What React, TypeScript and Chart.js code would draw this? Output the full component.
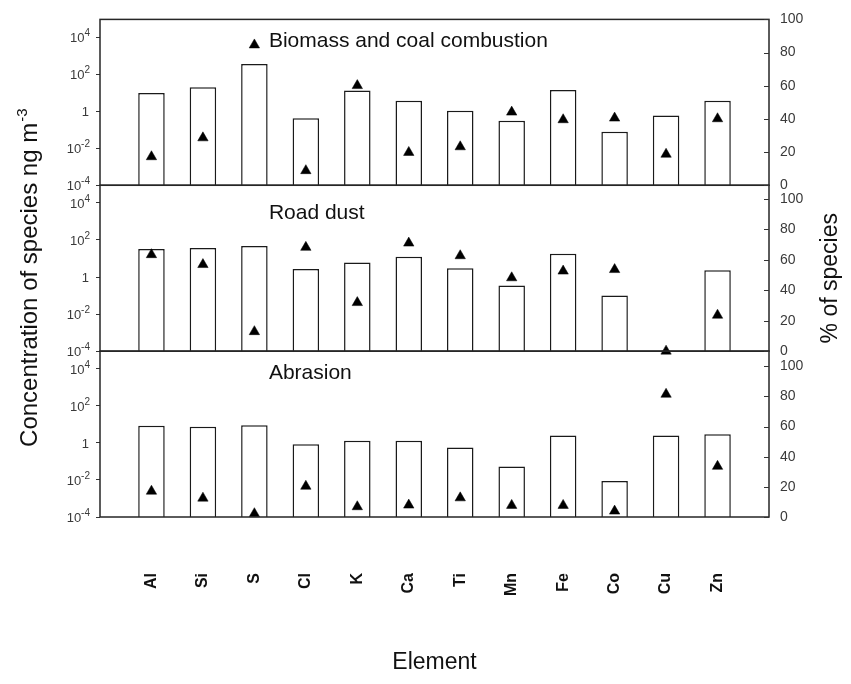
import React, { useEffect, useRef } from 'react';
import { Chart, registerables } from 'chart.js';

Chart.register(...registerables);

const ELEMENTS = ['Al', 'Si', 'S', 'Cl', 'K', 'Ca', 'Ti', 'Mn', 'Fe', 'Co', 'Cu', 'Zn'];
const PANEL_TITLES = ['Biomass and coal combustion', 'Road dust', 'Abrasion'];

// concentration of species (ng m-3), bars, log scale
const BIOMASS_CONC = [9.6, 19.5, 347, 0.41, 12.9, 3.6, 1.05, 0.3, 14, 0.078, 0.59, 3.6];
const ROAD_CONC = [33, 37, 48, 2.7, 6.1, 12.3, 3.0, 0.35, 18, 0.1, null, 2.3];
const ABRASION_CONC = [8.5, 7.5, 8.9, 0.85, 1.29, 1.29, 0.56, 0.054, 2.5, 0.0088, 2.5, 2.9];

// % of species, triangles
const BIOMASS_PCT = [17.2, 28.6, 84.6, 8.8, 60.1, 19.8, 23.2, 44.1, 39.5, 40.5, 18.7, 40.1];
const ROAD_PCT = [63.4, 56.9, 12.8, 68.2, 31.9, 71.0, 62.7, 48.2, 52.6, 53.6, 0, 23.6];
const ABRASION_PCT = [17.1, 12.5, 2.2, 20.4, 6.8, 7.9, 12.7, 7.7, 7.7, 3.9, 81.4, 33.6];

const CONC_TICKS = [1e-4, 1e-2, 1, 1e2, 1e4];
const CONC_MIN = 1e-4;
const CONC_MAX = 9e4;
const PCT_TICKS = [0, 10, 20, 30, 40, 50, 60, 70, 80, 90, 100];
const PCT_MAX = [100, 109, 110];

const LEFT_IDS = ['y1', 'y2', 'y3'];
const RIGHT_IDS = ['r1', 'r2', 'r3'];
const CONC_SERIES = [BIOMASS_CONC, ROAD_CONC, ABRASION_CONC];
const PCT_SERIES = [BIOMASS_PCT, ROAD_PCT, ABRASION_PCT];

const FONT = '"Liberation Sans", Arial, Helvetica, sans-serif';

const pad = (arr: (number | null)[]) => [null, ...arr, null];

const panelsPlugin = {
  id: 'panels',
  afterDatasetsDraw(chart: any) {
    const ctx: CanvasRenderingContext2D = chart.ctx;
    const { left, right, top, bottom } = chart.chartArea;
    ctx.save();
    // panel frames
    ctx.strokeStyle = '#262626';
    ctx.lineWidth = 1.5;
    LEFT_IDS.forEach((id) => {
      const s = chart.scales[id];
      ctx.strokeRect(left, s.top, right - left, s.bottom - s.top);
    });
    // inward ticks on right axes
    ctx.lineWidth = 1;
    ctx.strokeStyle = '#333';
    RIGHT_IDS.forEach((id) => {
      const s = chart.scales[id];
      s.ticks.forEach((t: any) => {
        const y = Math.round(s.getPixelForValue(t.value)) + 0.5;
        ctx.beginPath();
        ctx.moveTo(right, y);
        ctx.lineTo(right - 5, y);
        ctx.stroke();
      });
    });
    // left tick labels with superscripts
    ctx.fillStyle = '#3a3a3a';
    ctx.textBaseline = 'alphabetic';
    const rx = left - 10;
    LEFT_IDS.forEach((id) => {
      const s = chart.scales[id];
      s.ticks.forEach((t: any) => {
        const y = s.getPixelForValue(t.value);
        const k = Math.round(Math.log10(t.value));
        ctx.textAlign = 'left';
        if (k === 0) {
          ctx.font = `13px ${FONT}`;
          const w = ctx.measureText('1').width;
          ctx.fillText('1', rx - w - 1, y + 4.7);
        } else {
          ctx.font = `13px ${FONT}`;
          const wb = ctx.measureText('10').width;
          ctx.font = `10px ${FONT}`;
          const es = String(k);
          const we = ctx.measureText(es).width;
          const x0 = rx - wb - we;
          ctx.font = `13px ${FONT}`;
          ctx.fillText('10', x0, y + 4.7);
          ctx.font = `10px ${FONT}`;
          ctx.fillText(es, x0 + wb, y - 1);
        }
      });
    });
    // panel titles
    ctx.fillStyle = '#111';
    ctx.font = `21px ${FONT}`;
    ctx.textAlign = 'left';
    const titleOffsets = [28, 34, 28];
    LEFT_IDS.forEach((id, i) => {
      const s = chart.scales[id];
      const x = chart.scales.x;
      const tx = x.getPixelForValue(3) + 14.5;
      ctx.fillText(PANEL_TITLES[i], tx, s.top + titleOffsets[i]);
    });
    // left axis title
    const cy = (top + bottom) / 2 + 10;
    ctx.save();
    ctx.translate(37, cy);
    ctx.rotate(-Math.PI / 2);
    const main = 'Concentration of species ng m';
    const sup = '-3';
    ctx.font = `24px ${FONT}`;
    const wm = ctx.measureText(main).width;
    ctx.font = `15px ${FONT}`;
    const ws = ctx.measureText(sup).width;
    const start = -(wm + ws) / 2;
    ctx.font = `24px ${FONT}`;
    ctx.fillText(main, start, 0);
    ctx.font = `15px ${FONT}`;
    ctx.fillText(sup, start + wm + 1, -10);
    ctx.restore();
    // right axis title
    ctx.save();
    ctx.translate(837, cy);
    ctx.rotate(-Math.PI / 2);
    ctx.font = `23px ${FONT}`;
    ctx.textAlign = 'center';
    ctx.fillText('% of species', 0, 0);
    ctx.restore();
    ctx.restore();
  },
};

function leftScale(i: number) {
  return {
    type: 'logarithmic',
    position: 'left',
    stack: 'left',
    stackWeight: 1,
    min: CONC_MIN,
    max: CONC_MAX,
    afterBuildTicks: (s: any) => {
      s.ticks = CONC_TICKS.map((value) => ({ value }));
    },
    afterFit: (s: any) => {
      s.width = 50;
    },
    grid: { drawOnChartArea: false, drawTicks: true, tickLength: 4, color: '#333', lineWidth: 1 },
    border: { display: false },
    ticks: {
      color: 'rgba(0,0,0,0)',
      font: { size: 13, family: FONT },
      callback: (v: any) => String(v),
    },
  };
}

function rightScale(i: number) {
  return {
    type: 'linear',
    position: 'right',
    stack: 'right',
    stackWeight: 1,
    min: 0,
    max: PCT_MAX[i],
    afterBuildTicks: (s: any) => {
      s.ticks = PCT_TICKS.map((value) => ({ value }));
    },
    afterFit: (s: any) => {
      s.width = 40;
    },
    grid: { display: false, drawTicks: false, drawOnChartArea: false },
    border: { display: false },
    ticks: {
      color: '#3a3a3a',
      padding: 11,
      font: { size: 14, family: FONT },
      callback: (v: any) => (v % 20 === 0 ? String(v) : ''),
    },
  };
}

export default function App() {
  const ref = useRef<HTMLCanvasElement | null>(null);

  useEffect(() => {
    if (!ref.current) return;
    const datasets: any[] = [];
    CONC_SERIES.forEach((series, i) => {
      datasets.push({
        type: 'bar',
        data: pad(series),
        xAxisID: 'x',
        yAxisID: LEFT_IDS[i],
        backgroundColor: '#ffffff',
        borderColor: '#1a1a1a',
        borderWidth: 1.5,
        grouped: false,
        categoryPercentage: 1,
        barPercentage: 0.515,
        order: 2,
      });
    });
    PCT_SERIES.forEach((series, i) => {
      datasets.push({
        type: 'line',
        data: pad(series),
        xAxisID: 'x',
        yAxisID: RIGHT_IDS[i],
        showLine: false,
        pointStyle: 'triangle',
        pointRadius: 6,
        pointBackgroundColor: '#000',
        pointBorderColor: '#000',
        pointBorderWidth: 0.5,
        clip: false,
        order: 1,
      });
    });

    const scales: any = {
      x: {
        type: 'category',
        labels: ['', ...ELEMENTS, ''],
        offset: false,
        grid: { display: false, drawTicks: false },
        border: { display: false },
        afterFit: (s: any) => {
          s.height = 167;
        },
        ticks: {
          autoSkip: false,
          minRotation: 90,
          maxRotation: 90,
          padding: 56,
          color: '#111',
          font: { size: 16, weight: 'bold', family: FONT },
        },
        title: {
          display: true,
          text: 'Element',
          color: '#111',
          font: { size: 23, family: FONT },
          padding: { top: 0, bottom: 8 },
        },
      },
    };
    // left-side stacked axes are laid out in reverse order, so add them bottom-first
    [...LEFT_IDS].reverse().forEach((id) => (scales[id] = leftScale(LEFT_IDS.indexOf(id))));
    RIGHT_IDS.forEach((id, i) => (scales[id] = rightScale(i)));

    const chart = new Chart(ref.current, {
      type: 'bar',
      data: { labels: ['', ...ELEMENTS, ''], datasets },
      options: {
        animation: false,
        responsive: false,
        devicePixelRatio: 1,
        layout: { padding: { left: 50, right: 42, top: 16, bottom: 0 } },
        plugins: { legend: { display: false }, tooltip: { enabled: false } },
        events: [],
        scales,
      } as any,
      plugins: [panelsPlugin],
    } as any);
    return () => chart.destroy();
  }, []);

  return (
    <div style={{ position: 'fixed', left: 0, top: 0, width: 851, height: 684, background: '#fff' }}>
      <canvas ref={ref} width={851} height={684} style={{ display: 'block' }} />
    </div>
  );
}
